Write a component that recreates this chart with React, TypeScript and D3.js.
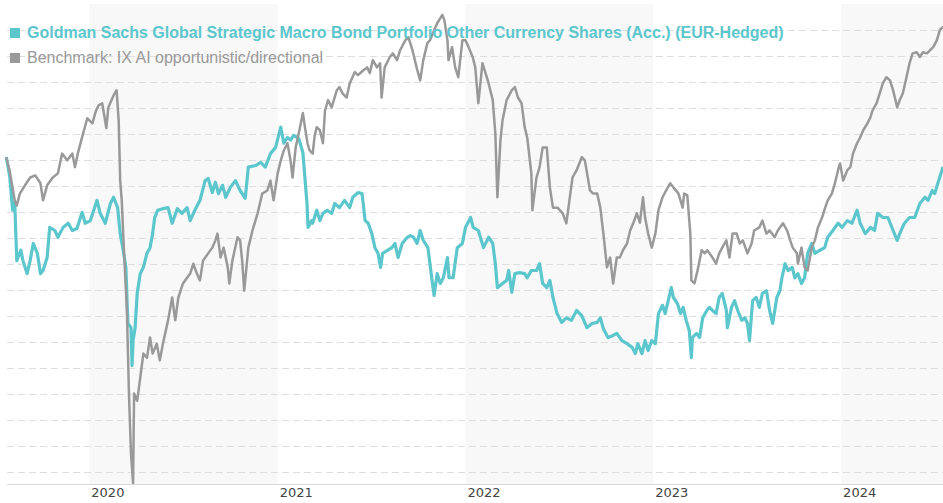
import React from "react";
import * as d3 from "d3";

const fundLabel = "Goldman Sachs Global Strategic Macro Bond Portfolio Other Currency Shares (Acc.) (EUR-Hedged)";
const benchLabel = "Benchmark: IX AI opportunistic/directional";
const yearLabels = ["2020", "2021", "2022", "2023", "2024"];
const shadedYears = ["2020", "2022", "2024"];
const gridValues = [40, 45, 50, 55, 60, 65, 70, 75, 80, 85, 90, 95, 100, 105, 110, 115, 120, 125];

const benchmark: [string, number][] = [
  ["2019-07-24",100.4],["2019-07-30",98.1],["2019-08-09",92.3],["2019-08-13",91.3],["2019-08-19",93.6],["2019-08-29",95.2],["2019-09-08",96.7],["2019-09-18",97.1],["2019-09-28",95.6],["2019-10-03",92.3],["2019-10-11",95.2],["2019-10-22",96.7],["2019-11-01",97.5],["2019-11-09",101.3],["2019-11-19",100.0],["2019-11-29",101.3],["2019-12-04",98.7],["2019-12-10",101.5],["2019-12-20",105.2],["2019-12-28",108.1],
  ["2020-01-07",107.1],["2020-01-13",109.3],["2020-01-19",110.6],["2020-01-26",111.0],["2020-01-30",108.7],["2020-02-03",106.2],["2020-02-07",110.2],["2020-02-17",112.5],["2020-02-23",113.5],["2020-02-27",107.7],["2020-03-01",96.1],["2020-03-04",92.3],["2020-03-08",83.2],["2020-03-14",71.1],["2020-03-18",55.1],["2020-03-22",43.5],["2020-03-26",37.9],["2020-03-28",55.1],["2020-04-03",53.7],["2020-04-09",58.2],["2020-04-15",62.8],["2020-04-22",62.0],["2020-04-28",65.9],["2020-05-03",62.8],["2020-05-11",64.7],["2020-05-17",61.5],["2020-05-23",64.7],["2020-06-02",69.2],["2020-06-10",73.6],["2020-06-16",69.2],["2020-06-22",73.6],["2020-07-01",76.3],["2020-07-09",77.4],["2020-07-15",78.2],["2020-07-21",80.1],["2020-07-28",78.2],["2020-08-03",76.9],["2020-08-09",80.7],["2020-08-19",82.1],["2020-08-27",83.2],["2020-09-02",84.6],["2020-09-06",85.9],["2020-09-12",81.3],["2020-09-18",83.2],["2020-09-26",79.4],["2020-09-29",76.3],["2020-10-05",80.7],["2020-10-15",85.2],["2020-10-20",84.6],["2020-10-24",80.7],["2020-10-28",74.9],["2020-11-05",83.2],["2020-11-13",86.5],["2020-11-23",89.8],["2020-12-02",93.6],["2020-12-12",94.2],["2020-12-18",96.1],["2020-12-24",92.3],
  ["2021-01-01",97.5],["2021-01-07",100.0],["2021-01-13",101.9],["2021-01-20",103.3],["2021-01-26",100.0],["2021-01-30",96.7],["2021-02-05",102.5],["2021-02-11",105.2],["2021-02-19",109.1],["2021-02-23",106.4],["2021-02-28",103.3],["2021-03-04",101.9],["2021-03-10",101.3],["2021-03-14",104.8],["2021-03-18",106.4],["2021-03-24",105.8],["2021-03-30",103.3],["2021-04-03",109.6],["2021-04-09",111.6],["2021-04-16",110.2],["2021-04-26",113.5],["2021-05-01",114.1],["2021-05-07",112.9],["2021-05-15",112.1],["2021-05-21",114.8],["2021-05-31",117.0],["2021-06-06",116.4],["2021-06-16",117.3],["2021-06-24",117.9],["2021-06-29",116.8],["2021-07-05",119.3],["2021-07-13",117.9],["2021-07-19",118.7],["2021-07-22",112.1],["2021-07-28",117.9],["2021-08-07",119.9],["2021-08-13",120.6],["2021-08-21",119.3],["2021-08-27",121.2],["2021-09-06",123.1],["2021-09-12",123.7],["2021-09-20",121.2],["2021-09-28",117.9],["2021-10-05",115.4],["2021-10-11",119.3],["2021-10-19",122.6],["2021-10-24",123.1],["2021-10-30",124.5],["2021-11-07",126.4],["2021-11-17",128.0],["2021-11-21",127.0],["2021-11-27",123.1],["2021-11-29",119.3],["2021-12-06",121.8],["2021-12-12",117.9],["2021-12-18",116.0],["2021-12-26",123.1],
  ["2022-01-01",123.1],["2022-01-07",121.8],["2022-01-15",119.9],["2022-01-20",117.9],["2022-01-26",111.0],["2022-02-03",118.7],["2022-02-09",116.8],["2022-02-15",114.8],["2022-02-23",111.6],["2022-02-28",105.2],["2022-03-04",92.9],["2022-03-10",103.9],["2022-03-14",107.7],["2022-03-22",111.6],["2022-04-01",113.5],["2022-04-07",114.1],["2022-04-13",112.1],["2022-04-20",111.0],["2022-04-26",106.4],["2022-05-01",104.4],["2022-05-09",97.5],["2022-05-11",90.4],["2022-05-19",96.7],["2022-05-25",98.7],["2022-05-31",102.5],["2022-06-08",102.5],["2022-06-14",94.8],["2022-06-20",90.9],["2022-06-29",90.9],["2022-07-09",89.8],["2022-07-16",87.9],["2022-07-22",92.3],["2022-07-28",96.7],["2022-08-05",98.1],["2022-08-15",100.6],["2022-08-21",100.0],["2022-08-31",94.2],["2022-09-06",93.6],["2022-09-14",93.6],["2022-09-20",90.9],["2022-09-26",85.9],["2022-10-03",79.4],["2022-10-09",81.3],["2022-10-15",76.3],["2022-10-22",81.3],["2022-10-28",81.3],["2022-11-03",82.7],["2022-11-11",84.0],["2022-11-17",86.5],["2022-11-23",87.9],["2022-11-30",89.8],["2022-12-06",88.0],["2022-12-12",92.9],["2022-12-16",89.0],["2022-12-22",85.9],["2022-12-29",83.2],
  ["2023-01-05",85.9],["2023-01-11",90.4],["2023-01-19",92.9],["2023-01-28",94.6],["2023-02-03",95.6],["2023-02-09",94.8],["2023-02-19",93.6],["2023-02-27",90.9],["2023-03-02",93.6],["2023-03-08",93.3],["2023-03-14",85.9],["2023-03-16",76.9],["2023-03-22",76.3],["2023-03-28",78.8],["2023-04-05",82.7],["2023-04-11",82.1],["2023-04-16",82.7],["2023-04-26",81.3],["2023-05-03",80.1],["2023-05-09",82.1],["2023-05-15",83.2],["2023-05-23",84.6],["2023-05-29",81.3],["2023-06-04",85.9],["2023-06-12",85.9],["2023-06-18",84.0],["2023-06-24",84.6],["2023-07-03",82.1],["2023-07-11",84.0],["2023-07-16",86.5],["2023-07-26",87.1],["2023-08-01",88.4],["2023-08-09",85.9],["2023-08-15",86.5],["2023-08-25",85.2],["2023-08-31",86.5],["2023-09-10",87.9],["2023-09-18",86.5],["2023-09-24",84.6],["2023-09-29",83.2],["2023-10-07",82.1],["2023-10-09",80.1],["2023-10-16",83.2],["2023-10-22",79.4],["2023-10-28",78.8],["2023-11-05",83.2],["2023-11-11",84.6],["2023-11-17",87.1],["2023-11-25",89.0],["2023-12-01",90.9],["2023-12-06",92.3],["2023-12-14",93.6],["2023-12-20",95.6],["2023-12-26",98.1],["2023-12-30",99.4],
  ["2024-01-05",96.1],["2024-01-13",98.1],["2024-01-19",98.7],["2024-01-24",101.3],["2024-02-01",103.3],["2024-02-07",104.4],["2024-02-13",105.8],["2024-02-21",107.1],["2024-02-27",108.3],["2024-03-02",109.6],["2024-03-10",111.0],["2024-03-16",112.9],["2024-03-22",114.8],["2024-03-29",116.0],["2024-04-05",115.4],["2024-04-11",113.5],["2024-04-19",110.2],["2024-04-24",111.6],["2024-04-30",112.9],["2024-05-07",116.0],["2024-05-13",118.7],["2024-05-19",120.6],["2024-05-27",120.8],["2024-06-02",119.9],["2024-06-08",120.8],["2024-06-16",120.6],["2024-06-22",121.2],["2024-06-28",121.8],["2024-07-05",123.1],["2024-07-11",125.1],["2024-07-16",125.6]
];

const fund: [string, number][] = [
  ["2019-07-24",100.4],["2019-07-30",97.1],["2019-08-05",90.4],["2019-08-09",91.9],["2019-08-13",80.7],["2019-08-21",82.7],["2019-08-25",80.7],["2019-09-02",78.2],["2019-09-08",80.7],["2019-09-14",84.0],["2019-09-22",82.1],["2019-09-28",78.2],["2019-10-03",78.8],["2019-10-11",81.3],["2019-10-16",87.1],["2019-10-26",86.5],["2019-11-01",85.2],["2019-11-11",87.1],["2019-11-21",87.9],["2019-11-29",86.5],["2019-12-08",86.9],["2019-12-18",90.0],["2019-12-24",87.9],
  ["2020-01-03",88.4],["2020-01-16",92.3],["2020-01-22",89.8],["2020-02-01",87.9],["2020-02-11",91.7],["2020-02-17",92.9],["2020-02-25",90.9],["2020-03-01",85.9],["2020-03-06",83.2],["2020-03-12",79.4],["2020-03-16",68.6],["2020-03-22",67.8],["2020-03-24",60.5],["2020-03-26",65.3],["2020-03-30",67.8],["2020-04-03",74.4],["2020-04-09",78.2],["2020-04-15",79.4],["2020-04-22",82.1],["2020-04-28",83.2],["2020-05-03",85.9],["2020-05-07",89.0],["2020-05-13",90.4],["2020-05-23",90.7],["2020-06-02",90.9],["2020-06-10",87.9],["2020-06-20",90.7],["2020-06-29",89.8],["2020-07-09",90.9],["2020-07-15",88.4],["2020-07-24",90.4],["2020-08-03",92.3],["2020-08-13",96.1],["2020-08-19",96.5],["2020-08-27",93.8],["2020-09-02",95.8],["2020-09-08",93.6],["2020-09-16",95.2],["2020-09-22",92.9],["2020-10-01",94.8],["2020-10-11",96.1],["2020-10-20",94.2],["2020-10-30",92.7],["2020-11-05",98.7],["2020-11-19",99.0],["2020-11-29",99.6],["2020-12-08",98.7],["2020-12-18",101.3],["2020-12-28",102.5],
  ["2021-01-07",106.4],["2021-01-13",103.3],["2021-01-20",104.4],["2021-01-26",103.9],["2021-02-01",104.8],["2021-02-11",104.2],["2021-02-19",101.5],["2021-02-27",91.7],["2021-03-01",87.1],["2021-03-08",88.4],["2021-03-10",87.9],["2021-03-18",90.4],["2021-03-24",88.4],["2021-03-30",89.8],["2021-04-07",90.4],["2021-04-16",89.8],["2021-04-22",91.7],["2021-05-01",90.9],["2021-05-11",92.3],["2021-05-21",90.9],["2021-05-27",92.9],["2021-06-06",93.8],["2021-06-14",93.6],["2021-06-20",88.4],["2021-06-26",87.9],["2021-07-03",85.9],["2021-07-09",83.2],["2021-07-15",82.1],["2021-07-20",79.4],["2021-07-24",82.1],["2021-08-03",82.7],["2021-08-11",83.2],["2021-08-17",84.0],["2021-08-23",81.3],["2021-08-31",84.0],["2021-09-10",85.2],["2021-09-16",85.5],["2021-09-22",85.2],["2021-09-29",84.0],["2021-10-05",86.5],["2021-10-11",84.6],["2021-10-20",83.2],["2021-10-28",76.9],["2021-11-01",74.0],["2021-11-07",78.2],["2021-11-13",76.3],["2021-11-19",77.4],["2021-11-27",81.3],["2021-11-30",77.4],["2021-12-08",77.4],["2021-12-16",83.2],["2021-12-26",84.0],
  ["2022-01-01",87.1],["2022-01-11",89.0],["2022-01-16",87.1],["2022-01-26",86.5],["2022-02-05",83.2],["2022-02-15",85.2],["2022-02-23",84.0],["2022-02-28",80.1],["2022-03-04",75.5],["2022-03-14",76.3],["2022-03-22",76.9],["2022-03-26",78.8],["2022-04-01",74.6],["2022-04-07",78.2],["2022-04-16",78.4],["2022-04-26",78.2],["2022-05-01",77.4],["2022-05-09",78.8],["2022-05-19",78.8],["2022-05-25",80.1],["2022-05-31",76.3],["2022-06-08",75.5],["2022-06-14",76.9],["2022-06-20",73.6],["2022-06-28",70.5],["2022-07-07",68.8],["2022-07-16",69.7],["2022-07-26",69.2],["2022-08-05",71.1],["2022-08-15",70.1],["2022-08-25",67.8],["2022-09-04",68.6],["2022-09-14",68.8],["2022-09-20",69.7],["2022-09-26",67.6],["2022-10-05",65.9],["2022-10-15",66.3],["2022-10-22",66.7],["2022-11-01",65.3],["2022-11-11",64.7],["2022-11-21",64.0],["2022-11-27",62.8],["2022-12-02",64.7],["2022-12-10",62.8],["2022-12-16",65.3],["2022-12-22",63.4],["2022-12-29",65.3],
  ["2023-01-05",64.7],["2023-01-11",70.5],["2023-01-19",72.1],["2023-01-24",70.5],["2023-01-30",73.0],["2023-02-05",75.5],["2023-02-09",73.6],["2023-02-17",72.4],["2023-02-23",70.5],["2023-02-28",71.7],["2023-03-06",69.2],["2023-03-12",67.2],["2023-03-16",62.0],["2023-03-18",65.9],["2023-03-26",66.7],["2023-04-01",65.9],["2023-04-07",69.7],["2023-04-15",71.1],["2023-04-20",71.7],["2023-04-26",71.1],["2023-05-03",70.5],["2023-05-09",73.6],["2023-05-15",74.4],["2023-05-23",71.1],["2023-05-25",67.8],["2023-06-02",71.7],["2023-06-08",73.0],["2023-06-14",71.1],["2023-06-22",69.2],["2023-06-28",69.7],["2023-07-03",68.6],["2023-07-07",65.3],["2023-07-13",73.0],["2023-07-20",73.6],["2023-07-26",71.7],["2023-08-01",74.4],["2023-08-09",74.9],["2023-08-15",71.1],["2023-08-21",68.6],["2023-08-29",73.6],["2023-09-04",74.9],["2023-09-08",77.4],["2023-09-14",80.1],["2023-09-20",78.8],["2023-09-28",79.4],["2023-10-03",77.4],["2023-10-09",78.2],["2023-10-16",76.3],["2023-10-22",77.4],["2023-10-28",82.1],["2023-11-05",84.0],["2023-11-11",82.1],["2023-11-21",82.7],["2023-11-30",83.2],["2023-12-06",85.2],["2023-12-16",86.5],["2023-12-26",87.9],
  ["2024-01-03",87.1],["2024-01-13",88.4],["2024-01-22",87.9],["2024-02-01",90.4],["2024-02-07",87.9],["2024-02-17",85.9],["2024-02-27",87.1],["2024-03-06",86.5],["2024-03-12",89.8],["2024-03-22",89.0],["2024-04-01",89.0],["2024-04-11",86.5],["2024-04-19",84.6],["2024-04-24",85.9],["2024-05-03",87.9],["2024-05-13",89.0],["2024-05-23",89.0],["2024-06-02",91.7],["2024-06-12",92.9],["2024-06-18",92.3],["2024-06-26",94.2],["2024-07-01",93.6],["2024-07-07",95.6],["2024-07-15",98.1],["2024-07-16",98.5]
];

const W = 943;
const H = 503;
const LEFT = 7;
const RIGHT = 943;
const TOP = 4;
const BOTTOM = 484;
const FUND_COLOR = "#5cc6cd";
const BENCH_COLOR = "#999999";

export default function App() {
  const parse = d3.timeParse("%Y-%m-%d");
  const x = d3
    .scaleTime()
    .domain([parse("2019-07-25") as Date, parse("2024-07-17") as Date])
    .range([LEFT, RIGHT]);
  const y = d3.scaleLinear().domain([37.7, 130.1]).range([BOTTOM, TOP]);

  const line = d3
    .line<[string, number]>()
    .x((d) => x(parse(d[0]) as Date))
    .y((d) => y(d[1]))
    .curve(d3.curveLinear);

  const yearX = (yr: string) => x(parse(`${yr}-01-01`) as Date);
  const yearEnd = (yr: string) => x(parse(`${+yr + 1}-01-01`) as Date);

  return (
    <svg
      width={W}
      height={H}
      style={{ position: "absolute", left: 0, top: 0, background: "#fff" }}
    >
      {shadedYears.map((yr) => {
        const x0 = yearX(yr);
        const x1 = Math.min(yearEnd(yr), RIGHT);
        return <rect key={yr} x={x0} y={TOP} width={x1 - x0} height={BOTTOM - TOP} fill="#f8f8f8" />;
      })}
      {gridValues.map((v) => (
        <line
          key={v}
          x1={LEFT}
          x2={RIGHT}
          y1={Math.round(y(v)) + 0.5}
          y2={Math.round(y(v)) + 0.5}
          stroke="#dedede"
          strokeWidth={1}
          strokeDasharray="7,4"
        />
      ))}
      <line x1={LEFT} x2={RIGHT} y1={BOTTOM + 0.5} y2={BOTTOM + 0.5} stroke="#d8d8d8" strokeWidth={1} />
      {yearLabels.map((yr) => (
        <text
          key={yr}
          x={yearX(yr) + 2}
          y={497}
          fontFamily="'DejaVu Sans', Verdana, sans-serif"
          fontSize={13}
          fill="#444"
        >
          {yr}
        </text>
      ))}
      <path d={line(fund) || ""} fill="none" stroke={FUND_COLOR} strokeWidth={3.2} strokeLinejoin="round" strokeLinecap="round" />
      <path d={line(benchmark) || ""} fill="none" stroke={BENCH_COLOR} strokeWidth={2.5} strokeLinejoin="round" strokeLinecap="round" />
      <g fontFamily="'Liberation Sans', Arial, sans-serif" fontSize={16}>
        <rect x={10} y={28} width={10} height={10} fill={FUND_COLOR} />
        <text x={27} y={38} fill={FUND_COLOR} fontWeight="bold">
          {fundLabel}
        </text>
        <rect x={10} y={53} width={10} height={10} fill={BENCH_COLOR} />
        <text x={27} y={63} fill={BENCH_COLOR}>
          {benchLabel}
        </text>
      </g>
    </svg>
  );
}
